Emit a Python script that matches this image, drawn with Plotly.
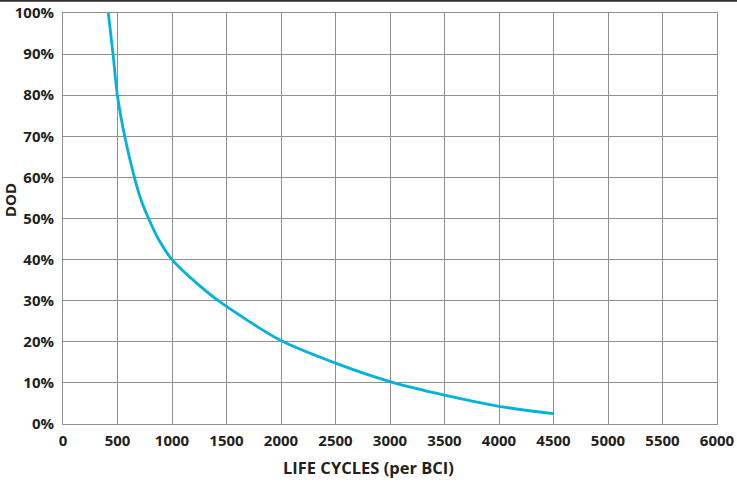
import plotly.graph_objects as go

cycles = [416, 459, 499, 566, 655, 710, 785, 875, 1000, 1195, 1425, 2000, 2500, 3000, 3500, 4000, 4500]
dod = [100, 90, 80, 70, 60, 55, 50, 45, 40, 35, 30, 20.3, 14.8, 10.3, 7.0, 4.3, 2.5]
x_ticks = list(range(0, 6001, 500))
y_ticks = list(range(0, 101, 10))
y_tick_labels = [f"{v}%" for v in y_ticks]

font_family = "Open Sans"
txt = "#231f20"
grid = "#8f8f8f"

W, H = 737, 493
ML, MR, MT, MB = 63, 20, 13, 69
plot_w = W - ML - MR
plot_h = H - MT - MB

fig = go.Figure()
fig.add_trace(go.Scatter(
    x=cycles, y=dod, mode="lines",
    line=dict(color="#00b2dc", width=2.8, shape="spline", smoothing=0.8),
    hoverinfo="skip", showlegend=False,
))

fig.update_layout(
    template="none",
    width=W, height=H,
    margin=dict(l=ML, r=MR, t=MT, b=MB, pad=0),
    paper_bgcolor="white", plot_bgcolor="white",
    font=dict(family=font_family, color=txt, size=15),
    xaxis=dict(
        automargin=False,
        range=[0, 6000], tickvals=x_ticks, ticktext=[str(v) for v in x_ticks],
        showgrid=True, gridcolor=grid, gridwidth=1,
        showline=True, linecolor=grid, linewidth=1, mirror=True,
        zeroline=False, ticks="outside", ticklen=3, tickcolor="rgba(0,0,0,0)",
        tickfont=dict(family=font_family, size=15, color=txt, weight="bold"),
    ),
    yaxis=dict(
        automargin=False,
        range=[0, 100], tickvals=y_ticks, ticktext=y_tick_labels,
        showgrid=True, gridcolor=grid, gridwidth=1,
        showline=True, linecolor=grid, linewidth=1, mirror=True,
        zeroline=False, ticks="outside", ticklen=5, tickcolor="rgba(0,0,0,0)",
        tickfont=dict(family=font_family, size=15, color=txt, weight="bold"),
    ),
    annotations=[
        dict(text="<b>LIFE CYCLES (per BCI)</b>", xref="paper", yref="paper",
             x=(W / 2 - ML) / plot_w, y=-(467 - (MT + plot_h)) / plot_h,
             xanchor="center", yanchor="middle", showarrow=False,
             font=dict(family=font_family, size=16.5, color=txt)),
        dict(text="<b>DOD</b>", xref="paper", yref="paper",
             x=-(ML - 10) / plot_w, y=(MT + plot_h - 200) / plot_h,
             xanchor="center", yanchor="middle", textangle=-90, showarrow=False,
             font=dict(family=font_family, size=15, color=txt)),
    ],
    shapes=[dict(type="line", xref="paper", yref="paper",
                 x0=-0.2, x1=1.2, y0=1 + 12.2 / plot_h, y1=1 + 12.2 / plot_h,
                 line=dict(color="#333333", width=2))],
)

fig.write_html("out.html", config={"displayModeBar": False},
               post_script="document.body.style.margin='0px';document.body.style.overflow='hidden';")
